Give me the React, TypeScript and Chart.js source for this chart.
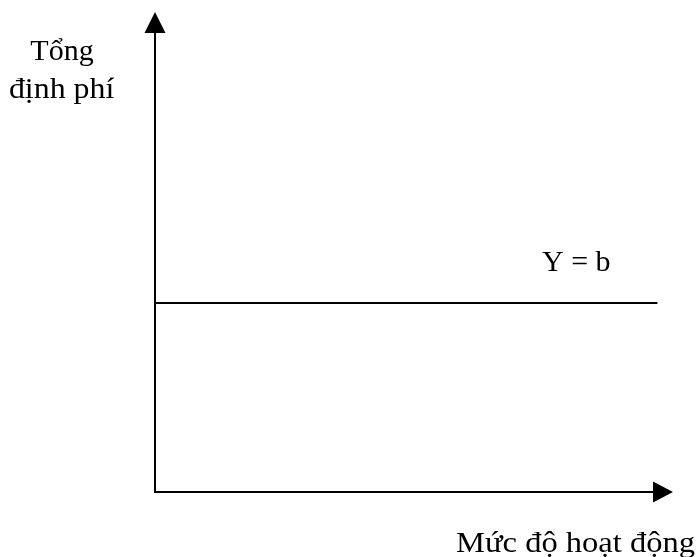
import React, { useEffect, useRef } from "react";
import { Chart, registerables } from "chart.js";

Chart.register(...registerables);

// Data: fixed cost line Y = b across activity levels
const activityLevels = [0, 97];
const fixedCostValues = [39.4, 39.4];
const yAxisTitleLines = ["Tổng", "định phí"];
const xAxisTitle = "Mức độ hoạt động";
const lineLabel = "Y = b";

const FONT = '30px "Liberation Serif", "Times New Roman", serif';

// draw text so that its ink spans [left, right] at the given baseline
function fitText(ctx: CanvasRenderingContext2D, text: string, left: number, right: number, baseline: number) {
  ctx.textAlign = "left";
  ctx.textBaseline = "alphabetic";
  const m = ctx.measureText(text);
  const inkL = -m.actualBoundingBoxLeft;
  const inkW = m.actualBoundingBoxRight + m.actualBoundingBoxLeft;
  const s = (right - left) / inkW;
  ctx.save();
  ctx.translate(left, baseline);
  ctx.scale(s, 1);
  ctx.fillText(text, -inkL, 0);
  ctx.restore();
}

const axesPlugin = {
  id: "arrowAxes",
  afterDraw(chart: any) {
    const { ctx, chartArea } = chart;
    const xs = chart.scales.x;
    const ys = chart.scales.y;
    const x0 = xs.getPixelForValue(0);
    const y0 = ys.getPixelForValue(0);
    const top = chartArea.top;
    const right = chartArea.right;
    ctx.save();
    ctx.strokeStyle = "#000";
    ctx.fillStyle = "#000";
    ctx.lineWidth = 2;
    // y axis
    ctx.beginPath();
    ctx.moveTo(x0, y0 + 1);
    ctx.lineTo(x0, top + 20);
    ctx.stroke();
    ctx.beginPath();
    ctx.moveTo(x0, top);
    ctx.lineTo(x0 - 10.5, top + 21);
    ctx.lineTo(x0 + 10.5, top + 21);
    ctx.closePath();
    ctx.fill();
    // x axis
    ctx.beginPath();
    ctx.moveTo(x0 - 1, y0);
    ctx.lineTo(right - 19, y0);
    ctx.stroke();
    ctx.beginPath();
    ctx.moveTo(right, y0);
    ctx.lineTo(right - 20, y0 - 10.5);
    ctx.lineTo(right - 20, y0 + 10.5);
    ctx.closePath();
    ctx.fill();

    // texts
    ctx.font = FONT;
    ctx.textAlign = "center";
    ctx.textBaseline = "alphabetic";
    ctx.fillText(yAxisTitleLines[0], x0 - 93, top + 48);
    fitText(ctx, yAxisTitleLines[1], x0 - 145, x0 - 40, top + 86);
    ctx.textAlign = "left";
    ctx.fillText(lineLabel, xs.getPixelForValue(74.9) - 1, ys.getPixelForValue(46.1));
    fitText(ctx, xAxisTitle, right - 217, right + 22, y0 + 60);
    ctx.restore();
  },
};

export default function App() {
  const ref = useRef<HTMLCanvasElement | null>(null);
  useEffect(() => {
    if (!ref.current) return;
    const chart = new Chart(ref.current, {
      type: "line",
      data: {
        datasets: [
          {
            data: activityLevels.map((x, i) => ({ x, y: fixedCostValues[i] })),
            borderColor: "#000",
            borderWidth: 2,
            pointRadius: 0,
            fill: false,
          },
        ],
      },
      options: {
        animation: false,
        responsive: false,
        layout: { padding: { left: 155, right: 26, top: 12, bottom: 65 } },
        plugins: { legend: { display: false }, tooltip: { enabled: false } },
        scales: {
          x: { type: "linear", min: 0, max: 100, display: false },
          y: { type: "linear", min: 0, max: 100, display: false },
        },
      },
      plugins: [axesPlugin],
    });
    return () => chart.destroy();
  }, []);
  return (
    <div style={{ position: "absolute", left: 0, top: 0, width: 699, height: 557, background: "#fff" }}>
      <canvas ref={ref} width={699} height={557} style={{ width: 699, height: 557 }} />
    </div>
  );
}
